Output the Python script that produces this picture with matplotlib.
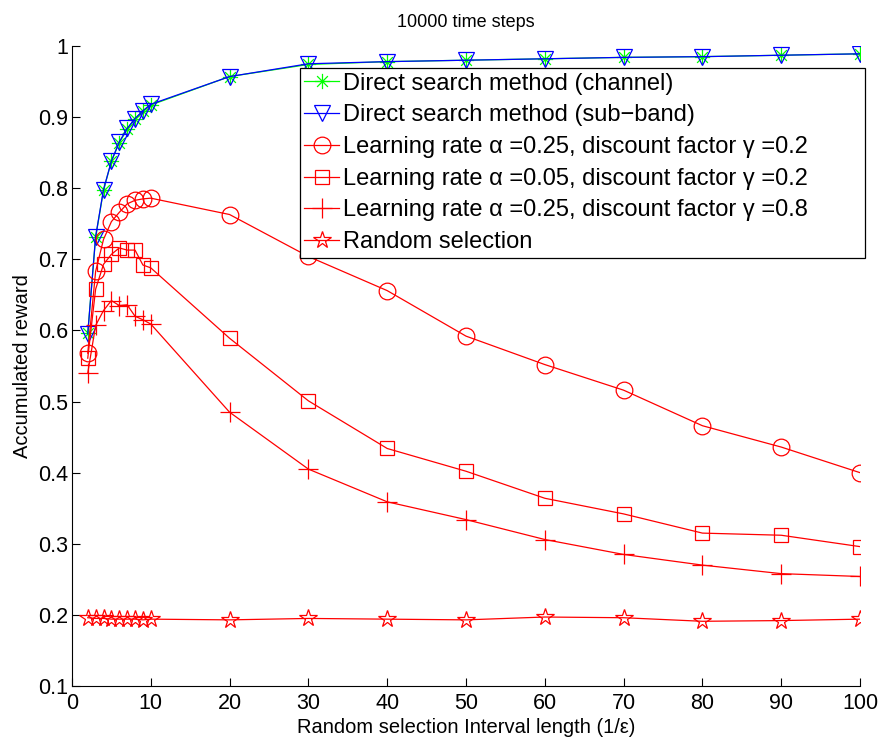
import matplotlib
matplotlib.use("Agg")
import matplotlib.pyplot as plt
from matplotlib.path import Path

plt.rcParams['font.family'] = ['Liberation Sans', 'DejaVu Sans']

x = [2, 3, 4, 5, 6, 7, 8, 9, 10, 20, 30, 40, 50, 60, 70, 80, 90, 100]

direct_channel = [0.596, 0.731, 0.797, 0.838, 0.864, 0.883, 0.898, 0.908, 0.917,
                  0.957, 0.974, 0.978, 0.980, 0.982, 0.984, 0.985, 0.987, 0.989]
direct_subband = [0.595, 0.732, 0.798, 0.838, 0.865, 0.884, 0.898, 0.909, 0.918,
                  0.957, 0.975, 0.978, 0.980, 0.982, 0.984, 0.985, 0.987, 0.989]
lr025_g02 = [0.568, 0.683, 0.728, 0.753, 0.766, 0.778, 0.783, 0.785, 0.786,
             0.763, 0.704, 0.656, 0.592, 0.552, 0.516, 0.466, 0.436, 0.400]
lr005_g02 = [0.561, 0.658, 0.693, 0.707, 0.716, 0.713, 0.713, 0.692, 0.688,
             0.589, 0.501, 0.434, 0.402, 0.364, 0.342, 0.315, 0.312, 0.296]
lr025_g08 = [0.540, 0.607, 0.628, 0.642, 0.635, 0.636, 0.620, 0.615, 0.609,
             0.485, 0.405, 0.359, 0.334, 0.306, 0.285, 0.270, 0.258, 0.254]
random_sel = [0.196, 0.195, 0.195, 0.194, 0.194, 0.194, 0.194, 0.193, 0.194,
              0.193, 0.195, 0.194, 0.193, 0.197, 0.196, 0.191, 0.192, 0.194]

labels = ["Direct search method (channel)",
          "Direct search method (sub\u2212band)",
          "Learning rate \u03b1 =0.25, discount factor \u03b3 =0.2",
          "Learning rate \u03b1 =0.05, discount factor \u03b3 =0.2",
          "Learning rate \u03b1 =0.25, discount factor \u03b3 =0.8",
          "Random selection"]

xticks = [0, 10, 20, 30, 40, 50, 60, 70, 80, 90, 100]
yticks = [0.1, 0.2, 0.3, 0.4, 0.5, 0.6, 0.7, 0.8, 0.9, 1.0]
yticklabels = ["0.1", "0.2", "0.3", "0.4", "0.5", "0.6", "0.7", "0.8", "0.9", "1"]

# MATLAB-like asterisk marker
asterisk = Path([(-1, 0), (1, 0), (0, -1), (0, 1),
                 (-0.707, -0.707), (0.707, 0.707), (-0.707, 0.707), (0.707, -0.707)],
                [Path.MOVETO, Path.LINETO, Path.MOVETO, Path.LINETO,
                 Path.MOVETO, Path.LINETO, Path.MOVETO, Path.LINETO])

fig = plt.figure(figsize=(8.8, 7.37), dpi=100)
ax = fig.add_axes([0.0818, 0.0692, 0.8955, 0.8684])

lw = 0.9
ax.plot(x, direct_channel, color='#00ff00', lw=lw, marker=asterisk, ms=11,
        mfc='none', mec='#00ff00', mew=0.9, label=labels[0])
ax.plot(x, direct_subband, color='#0000ff', lw=lw, marker='v', ms=12,
        mfc='none', mec='#0000ff', mew=0.9, label=labels[1])
ax.plot(x, lr025_g02, color='#ff0000', lw=lw, marker='o', ms=12,
        mfc='none', mew=0.9, label=labels[2])
ax.plot(x, lr005_g02, color='#ff0000', lw=lw, marker='s', ms=10,
        mfc='none', mew=0.9, label=labels[3])
ax.plot(x, lr025_g08, color='#ff0000', lw=lw, marker='+', ms=14,
        mew=0.9, label=labels[4])
ax.plot(x, random_sel, color='#ff0000', lw=lw, marker='*', ms=13,
        mfc='none', mew=0.9, label=labels[5])

ax.set_xlim(0, 100)
ax.set_ylim(0.1, 1.0)
ax.set_xticks(xticks)
ax.set_xticklabels([str(t) for t in xticks])
ax.set_yticks(yticks)
ax.set_yticklabels(yticklabels)
ax.tick_params(direction='in', length=6, width=0.8, labelsize=15.5)
ax.tick_params(axis='y', pad=3)
ax.tick_params(axis='x', pad=5)
for s in ['top', 'right']:
    ax.spines[s].set_visible(False)
for s in ['left', 'bottom']:
    ax.spines[s].set_linewidth(0.8)

ax.set_title("10000 time steps", fontsize=13, pad=14)
ax.set_xlabel("Random selection Interval length (1/\u03b5)", fontsize=14.5, labelpad=3)
ax.set_ylabel("Accumulated reward", fontsize=14.5, labelpad=4)

leg = ax.legend(loc='upper left', bbox_to_anchor=(0.289, 0.5, 0.717, 0.4656),
                mode='expand', borderaxespad=0,
                fontsize=17, frameon=True, fancybox=False, handlelength=1.45,
                handletextpad=0.2, labelspacing=0.41, borderpad=0.2)
leg.get_frame().set_edgecolor('black')
leg.get_frame().set_linewidth(0.9)
leg.get_frame().set_alpha(1)

fig.savefig("out.png", dpi=100)
